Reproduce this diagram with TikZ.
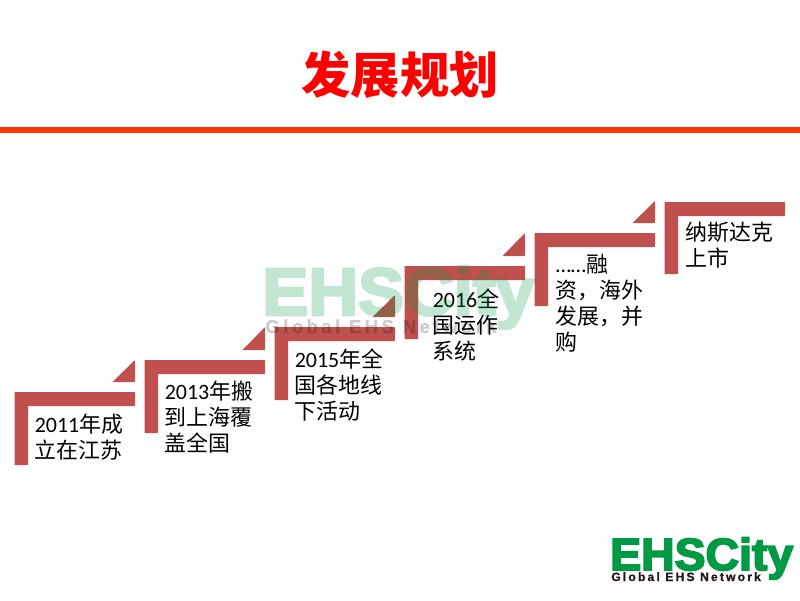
\documentclass[tikz,border=0pt]{standalone}
\usepackage{fontspec}
\setmainfont{Carlito}
\newfontfamily\cjk{Noto Sans CJK SC}
\newfontfamily\logofont[FakeBold=4]{Liberation Sans Bold}
\newfontfamily\sublogofont[LetterSpace=18,FakeBold=0.8]{Liberation Sans Bold}
\usepackage{tikz}
\definecolor{titlered}{HTML}{FF0000}
\definecolor{rulered}{HTML}{FF3300}
\definecolor{stepred}{HTML}{C0504D}
\definecolor{logogreen}{HTML}{009944}
\definecolor{logoblack}{HTML}{231815}
\tikzset{
    steptext/.style={anchor=north west, inner sep=0pt, align=left, font=\fontsize{15.6}{18.4}\selectfont},
    stepshape/.style={fill=stepred, rounded corners=0.5pt},
}
\begin{document}
\begin{tikzpicture}[x=0.025cm, y=-0.025cm]
    \useasboundingbox (0,0) rectangle (800,600);
    \fill[white] (0,0) rectangle (800,600);

    \node[text=titlered, font={\cjk\bfseries\fontsize{35}{40}\selectfont}] (title) at (400,75) {发展规划};
    \fill[rulered] (0,127) rectangle (800,133);

    \fill[stepshape] (14.5,392) -| (135,406) -| (28,465) -| (14.5,392) -- cycle;
    \fill[stepshape] (144.5,360) -| (265,374) -| (158,433) -| (144.5,360) -- cycle;
    \fill[stepshape] (274.5,327) -| (395,341) -| (288,400) -| (274.5,327) -- cycle;
    \fill[stepshape] (404.5,266) -| (525,280) -| (418,339) -| (404.5,266) -- cycle;
    \fill[stepshape] (534.5,233) -| (655,247) -| (548,306) -| (534.5,233) -- cycle;
    \fill[stepshape] (664.5,202) -| (785,216) -| (678,274) -| (664.5,202) -- cycle;

    \fill[stepshape] (112.5,382) -- (135,360) -- (135,382) -- cycle;
    \fill[stepshape] (242.5,350) -- (265,327) -- (265,350) -- cycle;
    \fill[stepshape] (372.5,317) -- (395,295) -- (395,317) -- cycle;
    \fill[stepshape] (502.5,256) -- (525,233) -- (525,256) -- cycle;
    \fill[stepshape] (632.5,223) -- (655,201) -- (655,223) -- cycle;

    \node[steptext] (first) at (34.5,414) {2011{\cjk 年成}\\{\cjk 立在江苏}};
    \node[steptext] (second) at (164.5,381) {2013{\cjk 年搬}\\{\cjk 到上海覆}\\{\cjk 盖全国}};
    \node[steptext] (third) at (294.5,349) {2015{\cjk 年全}\\{\cjk 国各地线}\\{\cjk 下活动}};
    \node[steptext] (fourth) at (432.5,289) {2016{\cjk 全}\\{\cjk 国运作}\\{\cjk 系统}};
    \node[steptext] (fifth) at (555.5,254) {……{\cjk 融}\\{\cjk 资，海外}\\{\cjk 发展，并}\\{\cjk 购}};
    \node[steptext] (sixth) at (685.5,222) {{\cjk 纳斯达克}\\{\cjk 上市}};

    \begin{scope}[transparency group, opacity=0.24]
        \node[anchor=base west, inner sep=0pt, xscale=1.03, text=logogreen, font={\logofont\fontsize{47.6}{50}\selectfont}] (mark) at (262,315) {EHSCity};
    \end{scope}
    \begin{scope}[transparency group, opacity=0.2]
        \node[anchor=base west, inner sep=0pt, text=black, font={\sublogofont\fontsize{13.3}{16}\selectfont}] (marksub) at (265,333) {Global EHS Network};
    \end{scope}

    \node[anchor=base west, inner sep=0pt, xscale=1.03, text=logogreen, font={\logofont\fontsize{32}{34}\selectfont}] (logo) at (610,570) {EHSCity};
    \node[anchor=base west, inner sep=0pt, text=logoblack, font={\sublogofont\fontsize{8.6}{10}\selectfont}] (logosub) at (611,581) {Global EHS Network};
\end{tikzpicture}
\end{document}
